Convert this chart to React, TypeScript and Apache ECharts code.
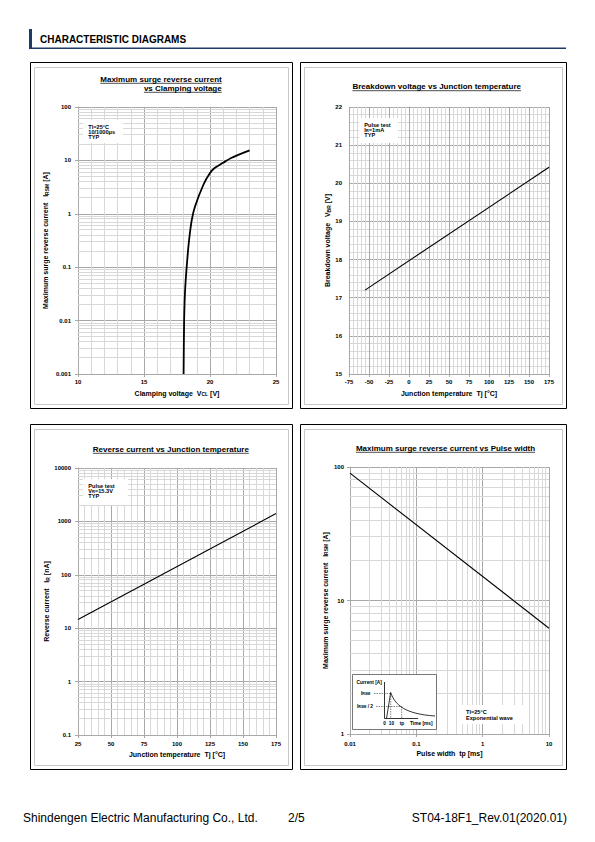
import React, { useEffect, useRef } from 'react';
import * as echarts from 'echarts';

const FONT = '"Liberation Sans", Arial, Helvetica, sans-serif';
const NAVY = '#1f3a68';
const MAJOR = '#a8a8a8';
const MINOR = '#d8d8d8';

// ---- Chart 1: Maximum surge reverse current vs Clamping voltage
const clampVoltageV = [18.0, 18.04, 18.12, 18.29, 18.42, 18.62, 18.87, 19.5, 20.0, 20.35, 20.95, 21.6, 23.0];
const clampSurgeCurrentA = [0.001, 0.01, 0.04, 0.15, 0.33, 0.77, 1.38, 3.5, 5.8, 7.2, 8.9, 11.1, 15.4];
const c1XRange = [10, 25];
const c1YRange = [0.001, 100];

// ---- Chart 2: Breakdown voltage vs Junction temperature
const bdTempC = [-55, 175];
const bdVoltageV = [17.2, 20.42];
const c2XRange = [-75, 175];
const c2YRange = [15, 22];

// ---- Chart 3: Reverse current vs Junction temperature
const rcTempC = [25, 175];
const rcCurrentNA = [14.5, 1400];
const c3XRange = [25, 175];
const c3YRange = [0.1, 10000];

// ---- Chart 4: Maximum surge reverse current vs Pulse width
const pulseWidthMs = [0.01, 10];
const pulseSurgeCurrentA = [90, 6.2];
const c4XRange = [0.01, 10];
const c4YRange = [1, 100];

const logMinorSteps = [2, 3, 4, 5, 6, 7, 8, 9];

function logMinorValues(range: number[]) {
  const out: number[] = [];
  for (let d = range[0]; d < range[1] * 0.999; d = Number((d * 10).toPrecision(6))) {
    logMinorSteps.forEach((m) => out.push(Number((m * d).toPrecision(6))));
  }
  return out;
}

const logFmt = (v: number) => String(Number(Number(v).toPrecision(6)));

const labelBase = { color: '#000', fontSize: 6, fontWeight: 'bold', fontFamily: FONT };
const nameStyle = {
  color: '#000',
  fontSize: 7,
  fontWeight: 'bold',
  fontFamily: FONT,
  rich: { s: { color: '#000', fontSize: 5, fontWeight: 'bold', fontFamily: FONT, verticalAlign: 'bottom' } },
};

function axisCommon(gridIndex: number, name: string, nameGap: number, labelMargin: number) {
  return {
    gridIndex,
    name,
    nameLocation: 'middle',
    nameGap,
    nameTextStyle: nameStyle,
    axisLine: { show: true, lineStyle: { color: MAJOR, width: 1 } },
    axisTick: { show: true, length: 3, inside: false, lineStyle: { color: MAJOR } },
    axisLabel: { ...labelBase, margin: labelMargin },
    splitLine: { show: true, lineStyle: { color: MAJOR, width: 1 } },
  };
}

function linAxis(gridIndex: number, range: number[], interval: number, name: string, nameGap: number, labelMargin: number) {
  return {
    type: 'value',
    ...axisCommon(gridIndex, name, nameGap, labelMargin),
    min: range[0],
    max: range[1],
    interval,
    minorTick: { show: false, splitNumber: 5 },
    minorSplitLine: { show: true, lineStyle: { color: MINOR, width: 1 } },
  };
}

function logAxis(gridIndex: number, range: number[], name: string, nameGap: number, labelMargin: number) {
  const a: any = {
    type: 'log',
    logBase: 10,
    ...axisCommon(gridIndex, name, nameGap, labelMargin),
    min: range[0],
    max: range[1],
  };
  a.axisLabel = { ...a.axisLabel, formatter: logFmt };
  return a;
}

function minorLines(gi: number, dir: 'h' | 'v', values: number[], xr: number[], yr: number[]) {
  return {
    type: 'custom',
    xAxisIndex: gi,
    yAxisIndex: gi,
    z: 1,
    silent: true,
    data: values.map((v) => (dir === 'h' ? [xr[0], v] : [v, yr[0]])),
    renderItem: (_p: any, api: any) => {
      const snap = (n: number) => Math.round(n - 0.5) + 0.5;
      if (dir === 'h') {
        const v = api.value(1);
        const a = api.coord([xr[0], v]);
        const b = api.coord([xr[1], v]);
        return { type: 'line', shape: { x1: a[0], y1: snap(a[1]), x2: b[0], y2: snap(a[1]) }, style: { stroke: MINOR, lineWidth: 1 } };
      }
      const v = api.value(0);
      const a = api.coord([v, yr[0]]);
      const b = api.coord([v, yr[1]]);
      return { type: 'line', shape: { x1: snap(a[0]), y1: a[1], x2: snap(a[0]), y2: b[1] }, style: { stroke: MINOR, lineWidth: 1 } };
    },
  };
}

function lineSeries(gi: number, xs: number[], ys: number[], width: number, smooth: number | boolean) {
  return {
    type: 'line',
    xAxisIndex: gi,
    yAxisIndex: gi,
    z: 3,
    silent: true,
    showSymbol: false,
    symbol: 'none',
    smooth,
    data: xs.map((x, i) => [x, ys[i]]),
    lineStyle: { color: '#000', width },
  };
}

function measure(str: string, font: string) {
  const ctx = document.createElement('canvas').getContext('2d');
  if (!ctx) return str.length * 4;
  ctx.font = font;
  return ctx.measureText(str).width;
}

function txt(x: number, y: number, text: string, size: number, align = 'left', weight = 'bold', rich?: any) {
  const style: any = {
    text,
    fill: '#000',
    fontSize: size,
    fontWeight: weight,
    fontFamily: FONT,
    align,
    verticalAlign: 'middle',
    textAlign: align,
    textVerticalAlign: 'middle',
  };
  if (rich) style.rich = rich;
  return { type: 'text', x, y, z: 20, silent: true, style };
}

function line(x1: number, y1: number, x2: number, y2: number, stroke = '#000', lineWidth = 1, dash?: number[]) {
  const style: any = { stroke, lineWidth };
  if (dash) style.lineDash = dash;
  return { type: 'line', z: 20, silent: true, shape: { x1, y1, x2, y2 }, style };
}

function rect(x: number, y: number, w: number, h: number, style: any, z = 15) {
  return { type: 'rect', z, silent: true, shape: { x, y, width: w, height: h }, style };
}

function title(text: string, x: number, y: number, align: 'left' | 'center' | 'right') {
  const size = 8;
  const w = measure(text, `bold ${size}px "Liberation Sans"`);
  let x0 = x;
  if (align === 'center') x0 = x - w / 2;
  if (align === 'right') x0 = x - w;
  return [txt(x, y, text, size, align), line(x0, y + 4, x0 + w, y + 4, '#000', 0.7)];
}

function buildOption() {
  const smallRich = { s: { fontSize: 4.1, fontWeight: 'bold', fontFamily: FONT, fill: '#000' } };
  const insetRich = { s: { fontSize: 3.6, fontWeight: 'bold', fontFamily: FONT, fill: '#000' } };

  const panels = [
    [30.5, 62.5, 262, 346],
    [300.5, 62.5, 266, 346],
    [30.5, 424.5, 262, 345],
    [300.5, 424.5, 266, 345],
  ];

  const graphic: any[] = [
    // header
    rect(29, 29, 3, 20, { fill: NAVY }, 5),
    rect(29, 47.5, 537, 1.6, { fill: NAVY }, 5),
    txt(40, 39, 'CHARACTERISTIC DIAGRAMS', 10),
    // footer
    txt(23, 818, 'Shindengen Electric Manufacturing Co., Ltd.', 12, 'left', 'normal'),
    txt(288, 818, '2/5', 12, 'left', 'normal'),
    txt(567, 818, 'ST04-18F1_Rev.01(2020.01)', 12, 'right', 'normal'),
  ];
  panels.forEach(([x, y, w, h]) => {
    graphic.push(rect(x, y, w, h, { fill: 'none', stroke: '#000', lineWidth: 1 }, 5));
    graphic.push(rect(x + 4, y + 5, w - 8, h - 9, { fill: 'none', stroke: '#c8c8c8', lineWidth: 1 }, 5));
  });

  // titles
  graphic.push(...title('Maximum surge reverse current', 221.7, 79.3, 'right'));
  graphic.push(...title('vs Clamping voltage', 221.7, 88.3, 'right'));
  graphic.push(...title('Breakdown voltage vs Junction temperature', 436.7, 86.7, 'center'));
  graphic.push(...title('Reverse current vs Junction temperature', 170.8, 449.3, 'center'));
  graphic.push(...title('Maximum surge reverse current vs Pulse width', 445.5, 448.3, 'center'));

  // annotation boxes
  const ann = 5.6;
  graphic.push(rect(83, 120, 40, 23, { fill: '#fff' }));
  graphic.push(txt(88.3, 126.5, 'Tl=25°C', ann));
  graphic.push(txt(88.3, 131.6, '10/1000μs', ann));
  graphic.push(txt(88.3, 136.7, 'TYP', ann));

  graphic.push(rect(359, 118, 39, 25, { fill: '#fff' }));
  graphic.push(txt(364.3, 125, 'Pulse test', ann));
  graphic.push(txt(364.3, 130.2, 'I{s|R}=1mA', ann, 'left', 'bold', smallRich));
  graphic.push(txt(364.3, 135.3, 'TYP', ann));

  graphic.push(rect(83, 479, 45, 26, { fill: '#fff' }));
  graphic.push(txt(88.3, 486, 'Pulse test', ann));
  graphic.push(txt(88.3, 491.1, 'V{s|R}=15.3V', ann, 'left', 'bold', smallRich));
  graphic.push(txt(88.3, 496.2, 'TYP', ann));

  graphic.push(rect(461, 705, 68, 19, { fill: '#fff' }));
  graphic.push(txt(466, 711.5, 'Tl=25°C', ann));
  graphic.push(txt(466, 717.5, 'Exponential wave', ann));

  // inset waveform diagram
  const ins = 4.8;
  graphic.push(rect(352.5, 674.5, 84, 55, { fill: '#fff', stroke: '#555', lineWidth: 0.8 }));
  graphic.push(txt(356.5, 682.5, 'Current [A]', ins));
  graphic.push(line(384.5, 682, 384.5, 718.5, '#000', 0.8));
  graphic.push(line(384.5, 718.5, 418, 718.5, '#000', 0.8));
  graphic.push(txt(361, 693.5, 'I{s|RSM}', ins, 'left', 'bold', insetRich));
  graphic.push(txt(357, 706.5, 'I{s|RSM} / 2', ins, 'left', 'bold', insetRich));
  graphic.push(line(374, 693.5, 390.7, 693.5, '#333', 0.6, [1.5, 1]));
  graphic.push(line(376, 706.5, 401.7, 706.5, '#333', 0.6, [1.5, 1]));
  graphic.push(line(390.7, 693.5, 390.7, 718.5, '#333', 0.6, [1.5, 1]));
  graphic.push(line(401.7, 706.5, 401.7, 718.5, '#333', 0.6, [1.5, 1]));
  graphic.push(line(386.5, 718.5, 390.7, 692.5, '#000', 0.8));
  graphic.push({
    type: 'bezierCurve',
    z: 20,
    silent: true,
    shape: { x1: 390.7, y1: 692.5, cpx1: 395, cpy1: 705, cpx2: 405, cpy2: 714, x2: 435, y2: 716 },
    style: { stroke: '#000', lineWidth: 0.8, fill: 'none' },
  });
  graphic.push(txt(384.5, 723.5, '0', ins, 'center'));
  graphic.push(txt(391.5, 723.5, '10', ins, 'center'));
  graphic.push(txt(402, 723.5, 'tp', ins, 'center'));
  graphic.push(txt(410, 723.5, 'Time [ms]', ins, 'left'));

  return {
    animation: false,
    backgroundColor: '#fff',
    grid: [
      { left: 78, top: 107, width: 198, height: 267 },
      { left: 349, top: 107, width: 200, height: 267 },
      { left: 78, top: 468, width: 198, height: 267 },
      { left: 350, top: 467, width: 199, height: 267 },
    ],
    xAxis: [
      linAxis(0, c1XRange, 5, 'Clamping voltage  V{s|CL} [V]', 15.5, 5),
      linAxis(1, c2XRange, 25, 'Junction temperature  Tj [°C]', 15.5, 5),
      linAxis(2, c3XRange, 25, 'Junction temperature  Tj [°C]', 16, 6),
      logAxis(3, c4XRange, 'Pulse width  tp [ms]', 15.5, 6.5),
    ],
    yAxis: [
      logAxis(0, c1YRange, 'Maximum surge reverse current   I{s|RSM} [A]', 29, 7),
      linAxis(1, c2YRange, 1, 'Breakdown voltage   V{s|BR} [V]', 13, 7),
      logAxis(2, c3YRange, 'Reverse current   I{s|R} [nA]', 28, 7),
      logAxis(3, c4YRange, 'Maximum surge reverse current   I{s|RSM} [A]', 21.5, 6),
    ],
    series: [
      minorLines(0, 'h', logMinorValues(c1YRange), c1XRange, c1YRange),
      minorLines(2, 'h', logMinorValues(c3YRange), c3XRange, c3YRange),
      minorLines(3, 'h', logMinorValues(c4YRange), c4XRange, c4YRange),
      minorLines(3, 'v', logMinorValues(c4XRange), c4XRange, c4YRange),
      lineSeries(0, clampVoltageV, clampSurgeCurrentA, 1.8, 0.3),
      lineSeries(1, bdTempC, bdVoltageV, 1.1, false),
      lineSeries(2, rcTempC, rcCurrentNA, 1.1, false),
      lineSeries(3, pulseWidthMs, pulseSurgeCurrentA, 1.1, false),
    ],
    graphic: { elements: graphic },
  };
}

export default function App() {
  const ref = useRef<HTMLDivElement>(null);
  useEffect(() => {
    const chart = echarts.init(ref.current as HTMLDivElement, null, { renderer: 'svg', width: 595, height: 842 });
    chart.setOption(buildOption() as any);
    return () => chart.dispose();
  }, []);
  return (
    <div
      ref={ref}
      style={{ position: 'absolute', left: 0, top: 0, width: 595, height: 842, background: '#fff' }}
    />
  );
}
